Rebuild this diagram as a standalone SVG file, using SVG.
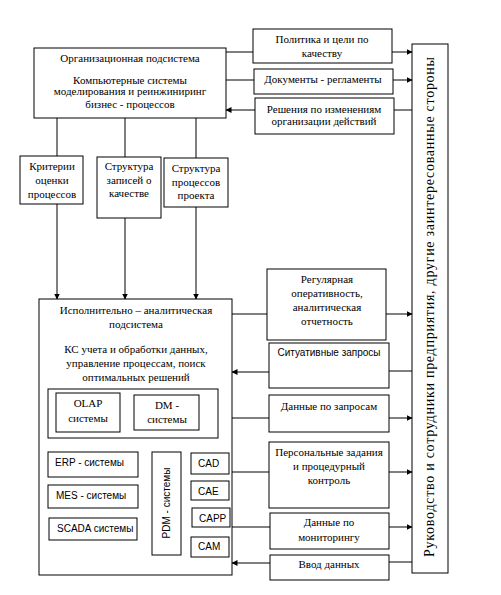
<svg xmlns="http://www.w3.org/2000/svg" width="501" height="595" viewBox="0 0 501 595">
<defs>
<marker id="ah" markerWidth="6" markerHeight="6" refX="5.5" refY="3" orient="auto" markerUnits="userSpaceOnUse">
<path d="M0,0 L6,3 L0,6 Z" fill="#000"/>
</marker>
<style>
rect{fill:#fff;stroke:#000;stroke-width:1}
.s{font-family:"Liberation Serif","Times New Roman",serif;font-size:11px;fill:#000;text-anchor:middle}
.a{font-family:"Liberation Sans",Arial,sans-serif;font-size:10px;fill:#000}
.c line{stroke:#000;stroke-width:1}
.c .ar{marker-end:url(#ah)}
</style>
</defs>
<rect x="0" y="0" width="501" height="595" style="stroke:none"/>

<g id="org">
<rect x="34" y="48" width="192" height="70"/>
<text class="s" x="130" y="62">Организационная подсистема</text>
<text class="s" x="130" y="84">Компьютерные системы</text>
<text class="s" x="130" y="95">моделирования и реинжиниринг</text>
<text class="s" x="130" y="108">бизнес - процессов</text>
</g>

<g id="politika">
<rect x="253" y="29" width="139" height="34"/>
<text class="s" x="322" y="43">Политика и цели по</text>
<text class="s" x="322" y="57">качеству</text>
</g>
<g id="dokumenty">
<rect x="254" y="69" width="139" height="25"/>
<text class="s" x="323" y="83">Документы - регламенты</text>
</g>
<g id="resheniya">
<rect x="255" y="98" width="139" height="36"/>
<text class="s" x="324" y="113">Решения по изменениям</text>
<text class="s" x="324" y="125">организации действий</text>
</g>

<g id="stakeholders">
<rect x="412" y="44" width="36" height="529"/>
<text class="s" transform="translate(434,307) rotate(-90)" style="font-size:14px" textLength="500" lengthAdjust="spacing">Руководство и сотрудники предприятия, другие заинтересованные стороны</text>
</g>

<g id="kriterii">
<rect x="20" y="156" width="63" height="48"/>
<text class="s" x="52" y="170">Критерии</text>
<text class="s" x="52" y="184">оценки</text>
<text class="s" x="52" y="198">процессов</text>
</g>
<g id="struktura-zapisey">
<rect x="97" y="157" width="64" height="61"/>
<text class="s" x="129" y="170">Структура</text>
<text class="s" x="129" y="184">записей о</text>
<text class="s" x="129" y="197">качестве</text>
</g>
<g id="struktura-processov">
<rect x="164" y="158" width="64" height="49"/>
<text class="s" x="196" y="172">Структура</text>
<text class="s" x="196" y="186">процессов</text>
<text class="s" x="196" y="199">проекта</text>
</g>

<g id="exec">
<rect x="39" y="299" width="193" height="276"/>
<text class="s" x="136" y="314">Исполнительно – аналитическая</text>
<text class="s" x="136" y="328">подсистема</text>
<text class="s" x="136" y="353">КС учета и обработки данных,</text>
<text class="s" x="136" y="367">управление процессам, поиск</text>
<text class="s" x="136" y="381">оптимальных решений</text>
</g>
<g id="analytics">
<rect x="48" y="389" width="170" height="49"/>
</g>
<g id="olap">
<rect x="56" y="393" width="64" height="39"/>
<text class="s" x="88" y="407">OLAP</text>
<text class="s" x="88" y="422">системы</text>
</g>
<g id="dm">
<rect x="134" y="395" width="65" height="35"/>
<text class="s" x="167" y="409">DM -</text>
<text class="s" x="167" y="423">системы</text>
</g>
<g id="erp">
<rect x="48" y="452" width="90" height="25"/>
<text class="a" x="55" y="466">ERP - системы</text>
</g>
<g id="mes">
<rect x="48" y="485" width="90" height="23"/>
<text class="a" x="56" y="499">MES - системы</text>
</g>
<g id="scada">
<rect x="49" y="518" width="88" height="22"/>
<text class="a" x="57" y="532">SCADA системы</text>
</g>
<g id="pdm">
<rect x="152" y="452" width="29" height="103"/>
<text class="a" transform="translate(170,503) rotate(-90)" text-anchor="middle">PDM - системы</text>
</g>
<g id="cad">
<rect x="191" y="453" width="38" height="21"/>
<text class="a" x="198" y="467">CAD</text>
</g>
<g id="cae">
<rect x="191" y="481" width="38" height="19"/>
<text class="a" x="198" y="495">CAE</text>
</g>
<g id="capp">
<rect x="192" y="508" width="38" height="19"/>
<text class="a" x="199" y="522">CAPP</text>
</g>
<g id="cam">
<rect x="191" y="537" width="38" height="20"/>
<text class="a" x="198" y="550">CAM</text>
</g>

<g id="regulyarnaya">
<rect x="267" y="269" width="119" height="71"/>
<text class="s" x="327" y="283">Регулярная</text>
<text class="s" x="327" y="297">оперативность,</text>
<text class="s" x="327" y="311">аналитическая</text>
<text class="s" x="327" y="325">отчетность</text>
</g>
<g id="situativnye">
<rect x="269" y="343" width="120" height="45"/>
<text class="a" x="329" y="356" text-anchor="middle">Ситуативные запросы</text>
</g>
<g id="dannye-zaprosy">
<rect x="269" y="395" width="120" height="37"/>
<text class="s" x="329" y="410">Данные по запросам</text>
</g>
<g id="personalnye">
<rect x="269" y="442" width="120" height="66"/>
<text class="s" x="329" y="456">Персональные задания</text>
<text class="s" x="329" y="470">и процедурный</text>
<text class="s" x="329" y="484">контроль</text>
</g>
<g id="monitoring">
<rect x="270" y="513" width="119" height="36"/>
<text class="s" x="329" y="526">Данные по</text>
<text class="s" x="329" y="541">мониторингу</text>
</g>
<g id="vvod">
<rect x="270" y="555" width="119" height="25"/>
<text class="s" x="329" y="568">Ввод данных</text>
</g>

<g id="connectors" class="c">
<line x1="57" y1="118" x2="57" y2="156"/>
<line x1="125" y1="118" x2="125" y2="157"/>
<line x1="196" y1="118" x2="196" y2="158"/>
<line class="ar" x1="57" y1="204" x2="57" y2="299"/>
<line class="ar" x1="125" y1="218" x2="125" y2="299"/>
<line class="ar" x1="196" y1="207" x2="196" y2="299"/>

<line x1="226" y1="52" x2="253" y2="52"/>
<line class="ar" x1="392" y1="52" x2="412" y2="52"/>
<line x1="226" y1="80" x2="254" y2="80"/>
<line class="ar" x1="393" y1="80" x2="412" y2="80"/>
<line x1="412" y1="110" x2="394" y2="110"/>
<line class="ar" x1="255" y1="110" x2="226" y2="110"/>

<line x1="232" y1="314" x2="267" y2="314"/>
<line class="ar" x1="386" y1="314" x2="412" y2="314"/>
<line x1="412" y1="371" x2="389" y2="371"/>
<line class="ar" x1="269" y1="372" x2="232" y2="372"/>
<line x1="232" y1="418" x2="269" y2="418"/>
<line class="ar" x1="389" y1="418" x2="412" y2="418"/>
<line x1="232" y1="472" x2="269" y2="472"/>
<line class="ar" x1="389" y1="472" x2="412" y2="472"/>
<line x1="232" y1="527" x2="270" y2="527"/>
<line class="ar" x1="389" y1="527" x2="412" y2="527"/>
<line x1="412" y1="562" x2="389" y2="562"/>
<line class="ar" x1="270" y1="563" x2="232" y2="563"/>
</g>
</svg>
